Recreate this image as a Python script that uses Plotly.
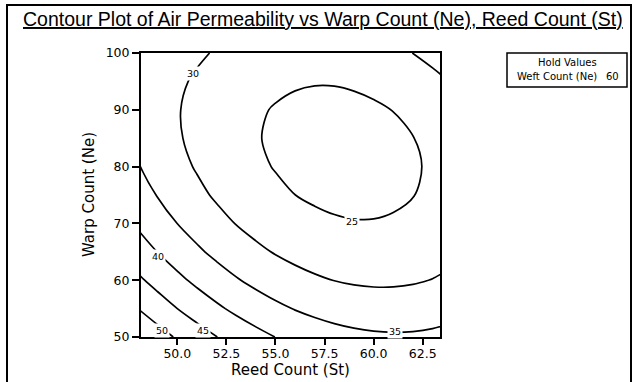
import plotly.graph_objects as go

# Reed Count (St) grid positions
reed_count = [48, 49, 50, 51, 52, 53, 54, 55, 56, 57, 58, 59, 60, 61, 62, 63, 64]
# Warp Count (Ne) grid positions
warp_count = [50, 55, 60, 65, 70, 75, 80, 85, 90, 95, 100]
# Air permeability estimated at each (warp, reed) grid point
air_permeability = [
    [54.64,51.97,49.48,47.18,45.07,43.16,41.45,39.95,38.66,37.59,36.73,36.11,35.71,35.55,35.62,35.94,36.51],
    [49.96,47.39,45.00,42.80,40.80,38.99,37.38,35.98,34.79,33.81,33.06,32.53,32.23,32.16,32.33,32.75,33.42],
    [45.83,43.36,41.08,38.98,37.07,35.36,33.86,32.55,31.46,30.59,29.93,29.50,29.30,29.33,29.60,30.11,30.88],
    [42.27,39.91,37.72,35.73,33.92,32.31,30.91,29.71,28.71,27.94,27.38,27.05,26.94,27.07,27.44,28.05,28.91],
    [39.31,37.05,34.97,33.07,31.37,29.86,28.55,27.45,26.56,25.88,25.42,25.19,25.18,25.40,25.87,26.58,27.53],
    [36.96,34.80,32.82,31.03,29.42,28.02,26.81,25.81,25.01,24.43,24.07,23.94,24.03,24.35,24.91,25.72,26.77],
    [35.24,33.18,31.31,29.62,28.11,26.81,25.70,24.80,24.10,23.62,23.36,23.32,23.51,23.93,24.59,25.49,26.63],
    [34.18,32.22,30.45,28.86,27.46,26.25,25.24,24.44,23.85,23.47,23.30,23.36,23.65,24.17,24.92,25.92,27.16],
    [33.79,31.94,30.26,28.77,27.47,26.37,25.46,24.76,24.26,23.98,23.92,24.07,24.46,25.07,25.92,27.01,28.35],
    [34.09,32.34,30.77,29.38,28.18,27.18,26.37,25.77,25.37,25.19,25.22,25.48,25.96,26.67,27.62,28.81,30.24],
    [35.11,33.46,31.99,30.70,29.61,28.70,27.99,27.49,27.19,27.11,27.24,27.59,28.17,28.98,30.03,31.31,32.84],
]
contour_levels = [25, 30, 35, 40, 45, 50]
# where each contour level is labelled (Reed, Warp)
label_reed = [58.9, 50.78, 61.09, 49.04, 51.32, 49.2]
label_warp = [70.3, 96.43, 50.93, 64.14, 51.23, 51.23]
x_ticks = [50.0, 52.5, 55.0, 57.5, 60.0, 62.5]
y_ticks = [50, 60, 70, 80, 90, 100]
hold_name = "Weft Count (Ne)"
hold_value = "60"

TICKFONT = dict(family="DejaVu Sans", size=12.5, color="black")
TITLEFONT = dict(family="DejaVu Sans", size=15, color="black")

fig = go.Figure(go.Contour(
    x=reed_count, y=warp_count, z=air_permeability,
    contours=dict(start=contour_levels[0], end=contour_levels[-1], size=contour_levels[1] - contour_levels[0],
                  coloring="lines", showlabels=False),
    colorscale=[[0, "black"], [1, "black"]], showscale=False,
    line=dict(width=1.7, smoothing=0.9),
    hoverinfo="skip",
))

W, H = 636, 382
PL, PR, PT, PB = 141, 440, 53, 337
pw, ph = PR - PL, PB - PT
def px(xp):
    return (xp - PL) / pw
def py(yp):
    return (PB - yp) / ph

annotations = [
    dict(text="<u>Contour Plot of Air Permeability vs Warp Count (Ne), Reed Count (St)</u>",
         xref="paper", yref="paper", x=px(21), y=py(19), xanchor="left", yanchor="middle",
         showarrow=False, font=dict(family="Liberation Sans", size=19.5, color="black")),
    dict(text="Reed Count (St)", xref="paper", yref="paper", x=px(290), y=py(369.5),
         xanchor="center", yanchor="middle", showarrow=False, font=TITLEFONT),
    dict(text="Warp Count (Ne)", xref="paper", yref="paper", x=px(89), y=py(195),
         xanchor="center", yanchor="middle", showarrow=False, textangle=-90, font=TITLEFONT),
    dict(text="Hold Values", xref="paper", yref="paper", x=px(567), y=py(63),
         xanchor="center", yanchor="middle", showarrow=False,
         font=dict(family="DejaVu Sans", size=10, color="black")),
    dict(text=hold_name, xref="paper", yref="paper", x=px(515), y=py(76),
         xanchor="left", yanchor="middle", showarrow=False,
         font=dict(family="DejaVu Sans", size=10, color="black")),
    dict(text=hold_value, xref="paper", yref="paper", x=px(621), y=py(76),
         xanchor="right", yanchor="middle", showarrow=False,
         font=dict(family="DejaVu Sans", size=10, color="black")),
]
for lv, lx, ly in zip(contour_levels, label_reed, label_warp):
    annotations.append(dict(text=str(lv), x=lx, y=ly, xref="x", yref="y", showarrow=False,
                            bgcolor="white", borderpad=1,
                            font=dict(family="DejaVu Sans", size=9.5, color="black")))

fig.update_layout(
    width=W, height=H,
    margin=dict(l=PL, r=W - PR, t=PT, b=H - PB),
    paper_bgcolor="white", plot_bgcolor="white",
    showlegend=False,
    xaxis=dict(range=[48.15, 63.38], tickvals=x_ticks, tickformat=".1f",
               ticks="outside", ticklen=6, tickwidth=1.5, tickcolor="black",
               showline=True, linewidth=2, linecolor="black", mirror=True,
               showgrid=False, zeroline=False, tickfont=TICKFONT, ticklabelstandoff=-2),
    yaxis=dict(range=[50, 100], tickvals=y_ticks,
               ticks="outside", ticklen=7, tickwidth=1.5, tickcolor="black",
               showline=True, linewidth=2, linecolor="black", mirror=True,
               showgrid=False, zeroline=False, tickfont=TICKFONT),
    shapes=[
        dict(type="rect", xref="paper", yref="paper", x0=px(7), x1=px(631), y0=py(400), y1=py(5),
             line=dict(color="black", width=2), fillcolor="rgba(0,0,0,0)", layer="above"),
        dict(type="rect", xref="paper", yref="paper", x0=px(507), x1=px(627), y0=py(87), y1=py(53),
             line=dict(color="black", width=1.5), fillcolor="white"),
    ],
    annotations=annotations,
)

fig.write_html("out.html", config={"displayModeBar": False},
               post_script="document.body.style.margin='0';")
